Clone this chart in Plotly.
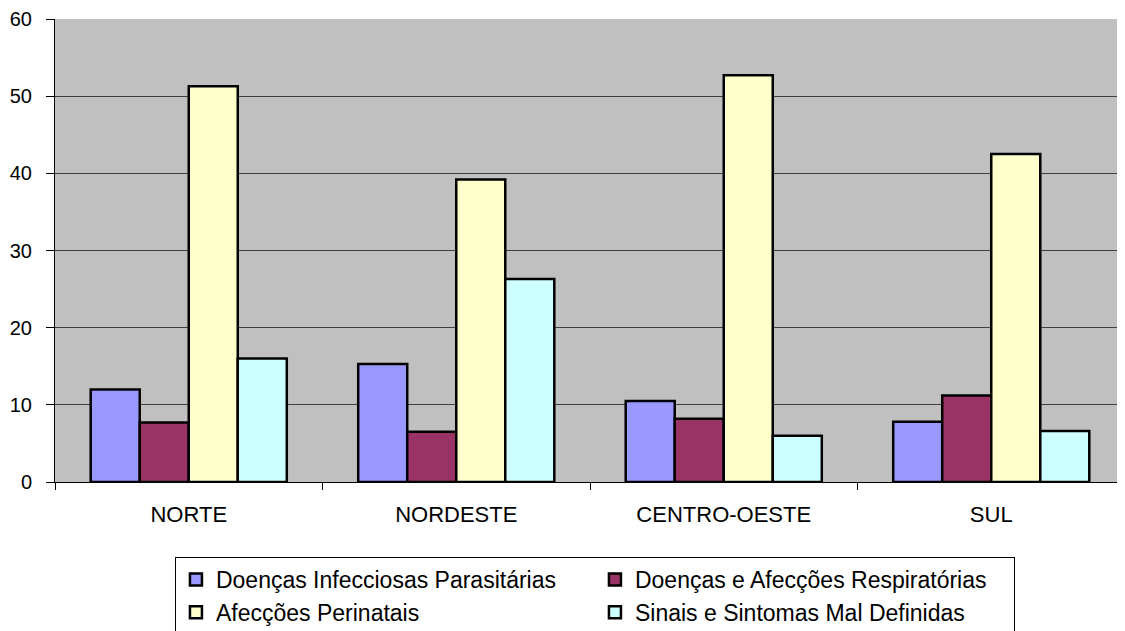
import plotly.graph_objects as go

regions = ["NORTE", "NORDESTE", "CENTRO-OESTE", "SUL"]
series_names = [
    "Doenças Infecciosas Parasitárias",
    "Doenças e Afecções Respiratórias",
    "Afecções Perinatais",
    "Sinais e Sintomas Mal Definidas",
]
infecciosas = [12.0, 15.3, 10.5, 7.8]
respiratorias = [7.7, 6.5, 8.2, 11.2]
perinatais = [51.3, 39.2, 52.7, 42.5]
mal_definidas = [16.0, 26.3, 6.0, 6.6]
y_ticks = [0, 10, 20, 30, 40, 50, 60]

colors = ["#9999FF", "#993366", "#FFFFCC", "#CCFFFF"]
values = [infecciosas, respiratorias, perinatais, mal_definidas]

FONT = "Liberation Sans"

fig = go.Figure()
for name, vals, col in zip(series_names, values, colors):
    fig.add_trace(go.Bar(
        name=name, x=regions, y=vals,
        marker=dict(color=col, line=dict(color="#000000", width=2.5)),
    ))

fig.update_layout(
    width=1117, height=636,
    margin=dict(l=47, r=0, t=11, b=162),
    paper_bgcolor="#FFFFFF",
    plot_bgcolor="#C0C0C0",
    barmode="group",
    bargap=0.267,
    bargroupgap=0,
    font=dict(family=FONT, size=20, color="#000000"),
    showlegend=True,
    legend=dict(
        orientation="h",
        x=0.1121, xanchor="left",
        y=-0.162, yanchor="top",
        bgcolor="#FFFFFF",
        bordercolor="#000000", borderwidth=1,
        font=dict(family=FONT, size=23, color="#000000"),
        entrywidth=374,
        traceorder="normal",
        tracegroupgap=0,
    ),
    xaxis=dict(
        type="category",
        tickson="boundaries",
        ticks="outside", ticklen=7, tickcolor="#000000", tickwidth=1,
        showline=True, linecolor="#000000", linewidth=1,
        showgrid=False,
        ticklabelstandoff=13,
        tickfont=dict(family=FONT, size=22),
    ),
    yaxis=dict(
        range=[0, 60],
        tickvals=y_ticks,
        ticks="outside", ticklen=8, tickcolor="#000000", tickwidth=1,
        showline=True, linecolor="#000000", linewidth=1,
        showgrid=True, gridcolor="#404040", gridwidth=1,
        zeroline=False,
        ticklabelstandoff=10,
        tickfont=dict(family=FONT, size=20),
    ),
)

fig.write_html("out.html")
